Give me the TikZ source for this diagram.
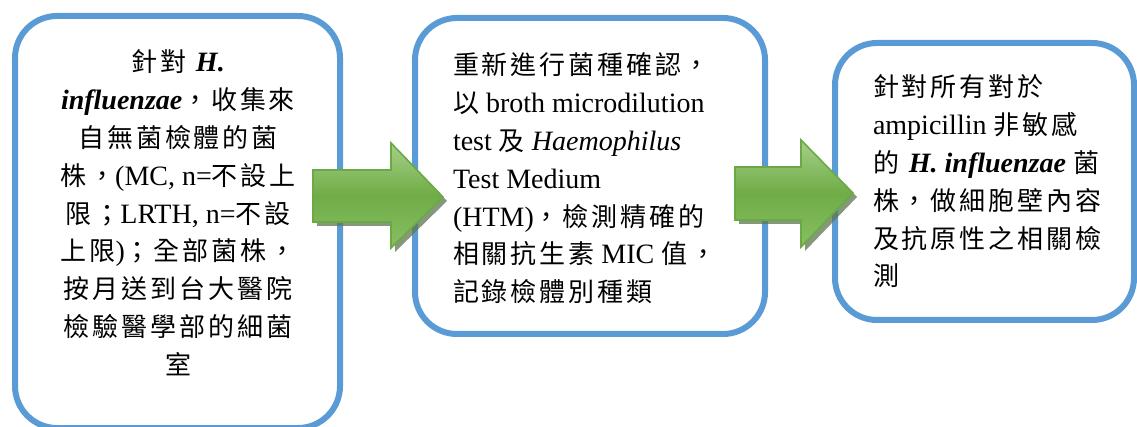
\documentclass[tikz,border=0pt]{standalone}
\usepackage{fontspec}
\setmainfont{Liberation Serif}
\newfontfamily\cjkf[LetterSpace=11]{Noto Sans CJK TC}
\newcommand\zh[1]{{\cjkf\fontsize{26}{37.8}\selectfont #1}}
\definecolor{boxblue}{HTML}{5B9BD5}
\definecolor{arrline}{HTML}{6AA944}
\definecolor{arrtop}{HTML}{A6D08A}
\definecolor{arrmid}{HTML}{6FAC46}
\definecolor{arrbot}{HTML}{88BF64}
\definecolor{arrshadow}{HTML}{5E7650}
\tikzset{
  flowbox/.style={draw=boxblue, line width=6pt, rounded corners=42pt, rectangle, inner sep=0pt},
  txt/.style={inner sep=0pt, outer sep=0pt},
  blockarrow/.style={draw=arrline, line width=1.6pt, top color=arrtop, bottom color=arrbot, middle color=arrmid},
  arrshade/.style={fill=arrshadow, opacity=0.75}
}
\begin{document}
\begin{tikzpicture}[x=1pt,y=-1pt]
\useasboundingbox (0,0) rectangle (1137,427);
\clip (0,0) rectangle (1137,427);
% boxes
\node[flowbox, minimum width=325pt, minimum height=412pt] (b1) at (177.5,222) {};
\node[flowbox, minimum width=350pt, minimum height=316pt] (b2) at (590,176) {};
\node[flowbox, minimum width=299pt, minimum height=277pt] (b3) at (984.5,181.5) {};
% arrow 1
\fill[arrshade] (317,174) -- (395,174) -- (395,147) -- (447,201) -- (395,252) -- (395,226) -- (317,226) -- cycle;
\path[blockarrow] (313,170) -- (391,170) -- (391,143) -- (443,197) -- (391,248) -- (391,222) -- (313,222) -- cycle;
% arrow 2
\fill[arrshade] (739,171) -- (805,171) -- (805,144) -- (857,197) -- (805,251) -- (805,224) -- (739,224) -- cycle;
\path[blockarrow] (735,167) -- (801,167) -- (801,140) -- (853,193) -- (801,247) -- (801,220) -- (735,220) -- cycle;
% texts
\node[txt, anchor=base] (t1) at (178,72) {\begin{minipage}[t]{320pt}\centering\fontsize{28}{37.8}\selectfont
\zh{針對} \textbf{\textit{H.}}\\
\textbf{\textit{influenzae}}\zh{，收集來}\\
\zh{自無菌檢體的菌}\\
\zh{株，}(MC, n=\zh{不設上}\\
\zh{限；}LRTH, n=\zh{不設}\\
\zh{上限})\zh{；全部菌株，}\\
\zh{按月送到台大醫院}\\
\zh{檢驗醫學部的細菌}\\
\zh{室}
\end{minipage}};
\node[txt, anchor=base west] (t2) at (453,75) {\begin{minipage}[t]{310pt}\raggedright\fontsize{28}{37.8}\selectfont
\zh{重新進行菌種確認，}\\
\zh{以} broth microdilution\\
test \zh{及} \textit{Haemophilus}\\
Test Medium\\
(HTM)\zh{，檢測精確的}\\
\zh{相關抗生素} MIC \zh{值，}\\
\zh{記錄檢體別種類}
\end{minipage}};
\node[txt, anchor=base west] (t3) at (873,97) {\begin{minipage}[t]{260pt}\raggedright\fontsize{28}{37.8}\selectfont
\zh{針對所有對於}\\
ampicillin \zh{非敏感}\\
\zh{的} \textbf{\textit{H. influenzae}} \zh{菌}\\
\zh{株，做細胞壁內容}\\
\zh{及抗原性之相關檢}\\
\zh{測}
\end{minipage}};
\end{tikzpicture}
\end{document}
